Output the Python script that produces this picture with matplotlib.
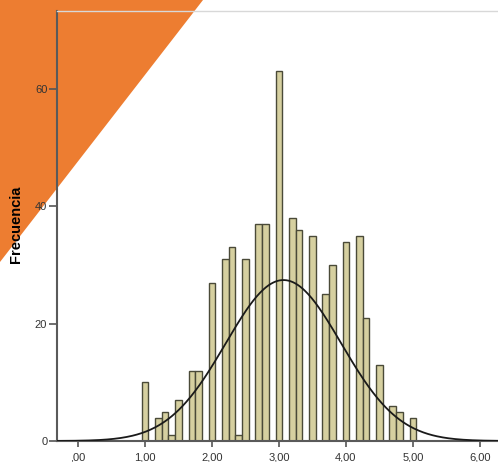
import numpy as np
import matplotlib
matplotlib.use('Agg')
import matplotlib.pyplot as plt
from matplotlib.patches import Polygon

centros = [1.0, 1.2, 1.3, 1.4, 1.5, 1.7, 1.8, 2.0, 2.2, 2.3, 2.4, 2.5, 2.7, 2.8,
           3.0, 3.2, 3.3, 3.5, 3.7, 3.8, 4.0, 4.2, 4.3, 4.5, 4.7, 4.8, 5.0]
frecuencias = [10, 4, 5, 1, 7, 12, 12, 27, 31, 33, 1, 31, 37, 37,
               63, 38, 36, 35, 25, 30, 34, 35, 21, 13, 6, 5, 4]
ancho = 0.1

xticks = [0, 1, 2, 3, 4, 5, 6]
xlabels = [',00', '1,00', '2,00', '3,00', '4,00', '5,00', '6,00']
yticks = [0, 20, 40, 60]

plt.rcParams['font.family'] = ['Liberation Sans', 'DejaVu Sans']

fig = plt.figure(figsize=(4.98, 4.62), dpi=100)

# triangulo naranja de la esquina (coordenadas de figura)
W, H = 498, 462
tri = Polygon([(0, 1), (203 / W, 1), (0, 1 - 262 / H)], closed=True,
              transform=fig.transFigure, facecolor='#ed7d31', edgecolor='none', zorder=0)
fig.patches.append(tri)

ax = fig.add_axes([57 / W, 21 / H, 1 - 57 / W, 430 / H])
ax.set_zorder(2)
ax.patch.set_alpha(0)

ax.bar(centros, frecuencias, width=ancho, color='#d6d0a0', edgecolor='#4a4a38',
       linewidth=1.0, zorder=2)

# curva normal ajustada a los datos
c = np.array(centros)
f = np.array(frecuencias)
n = f.sum()
media = (c * f).sum() / n
sd = np.sqrt(((c - media) ** 2 * f).sum() / (n - 1))
xs = np.linspace(-0.4, 6.4, 400)
ys = n * ancho / (sd * np.sqrt(2 * np.pi)) * np.exp(-0.5 * ((xs - media) / sd) ** 2)
ax.plot(xs, ys, color='#1a1a1a', linewidth=1.3, zorder=3)

ax.set_xlim(-0.313, 6.27)
ax.set_ylim(0, 73.3)

ax.set_xticks(xticks)
ax.set_xticklabels(xlabels)
ax.set_yticks(yticks)

ax.tick_params(axis='x', direction='out', length=4, width=1.2, color='#555555',
               labelsize=8, labelcolor='#333333', pad=4)
ax.tick_params(axis='y', direction='out', length=6, width=1.2, color='#555555',
               labelsize=8, labelcolor='#333333', pad=1)

for lado in ['left', 'bottom']:
    ax.spines[lado].set_color('#5a5a5a')
    ax.spines[lado].set_linewidth(1.5)
ax.spines['top'].set_color('#d8d8d8')
ax.spines['top'].set_linewidth(1.0)
ax.spines['right'].set_visible(False)

fig.text(16 / W, 1 - 224 / H, 'Frecuencia', rotation=90, fontsize=10.5,
         fontweight='bold', color='black', ha='center', va='center', zorder=3)

fig.savefig('out.png', dpi=100)
